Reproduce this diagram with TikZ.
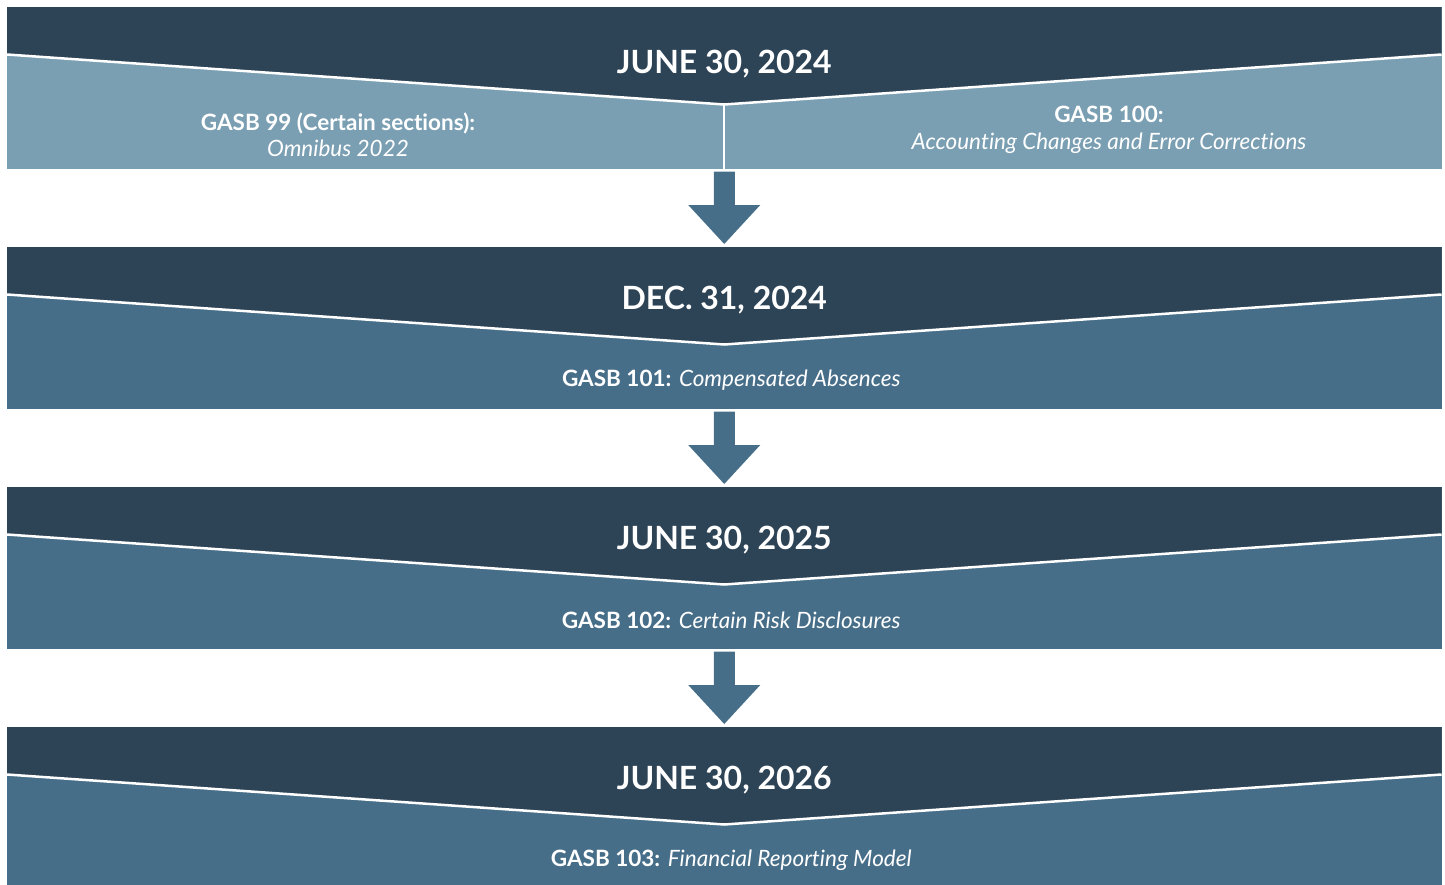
\documentclass[tikz,border=0pt]{standalone}
\usepackage{fontspec}
\setmainfont[Ligatures=NoCommon]{Lato}
\usetikzlibrary{calc}

\definecolor{darkband}{HTML}{2D4356}
\definecolor{lightblock}{HTML}{7A9FB3}
\definecolor{midblock}{HTML}{476E89}

\tikzset{
	block/.style={minimum width=1434.5pt, minimum height=162pt, inner sep=0pt, outer sep=0pt},
	datetext/.style={text=white, anchor=base, font=\fontsize{32}{36}\selectfont\bfseries},
	gasbtext/.style={text=white, align=center, font=\fontsize{22.5}{26.5}\selectfont},
}

\begin{document}
\begin{tikzpicture}[x=1pt, y=-1pt]
	
	\def\bandDrop{47.5} % Depth of the dark band at the edges
	\def\vDrop{97.5} % Depth of the dark band in the middle
	
	% Fix the page size
	\useasboundingbox (0,0) rectangle (1445,884);
	
	% Place the blocks
	\node[block, fill=lightblock] (b1) at (724.25,88) {};
	\node[block, fill=midblock] (b2) at (724.25,328) {};
	\node[block, fill=midblock] (b3) at (724.25,568) {};
	\node[block, fill=midblock] (b4) at (724.25,808) {};
	
	% Draw the dark band with the white V line on each block
	\foreach \b in {b1, b2, b3, b4} {
		\fill[darkband] (\b.north west) -- (\b.north east) -- ($(\b.north east)+(0,\bandDrop)$)
			-- ($(\b.north)+(0,\vDrop)$) -- ($(\b.north west)+(0,\bandDrop)$) -- cycle;
		\draw[white, line width=2.5pt] ($(\b.north west)+(0,\bandDrop)$)
			-- ($(\b.north)+(0,\vDrop)$) -- ($(\b.north east)+(0,\bandDrop)$);
	}
	
	% Split the first block in two
	\draw[white, line width=2pt] ($(b1.north)+(0,\vDrop)$) -- (b1.south);
	
	% Draw the arrows between the blocks
	\foreach \a/\b in {b1/b2, b2/b3, b3/b4} {
		\fill[midblock] ($(\a.south)+(-10.5,2.5)$) -- ($(\a.south)+(10.5,2.5)$)
			-- ($(\b.north)+(10.5,-42)$) -- ($(\b.north)+(36,-42)$) -- ($(\b.north)+(0,-3)$)
			-- ($(\b.north)+(-36,-42)$) -- ($(\b.north)+(-10.5,-42)$) -- cycle;
	}
	
	% Dates
	\node[datetext] (d1) at ($(b1.north)+(0,66)$) {JUNE 30, 2024};
	\node[datetext] (d2) at ($(b2.north)+(0,62.5)$) {DEC. 31, 2024};
	\node[datetext] (d3) at ($(b3.north)+(0,62.5)$) {JUNE 30, 2025};
	\node[datetext] (d4) at ($(b4.north)+(0,62.5)$) {JUNE 30, 2026};
	
	% Statements
	\node[gasbtext] (g99) at (338,135) {\bfseries GASB 99 (Certain sections):\\\itshape Omnibus 2022};
	\node[gasbtext] (g100) at (1109,130) {\bfseries GASB 100:\\\itshape Accounting Changes and Error Corrections};
	\node[gasbtext] (g101) at ($(b2.north)+(7,133)$) {\textbf{GASB 101:} \textit{Compensated Absences}};
	\node[gasbtext] (g102) at ($(b3.north)+(7,133)$) {\textbf{GASB 102:} \textit{Certain Risk Disclosures}};
	\node[gasbtext] (g103) at ($(b4.north)+(7,133.5)$) {\textbf{GASB 103:} \textit{Financial Reporting Model}};
	
\end{tikzpicture}
\end{document}
